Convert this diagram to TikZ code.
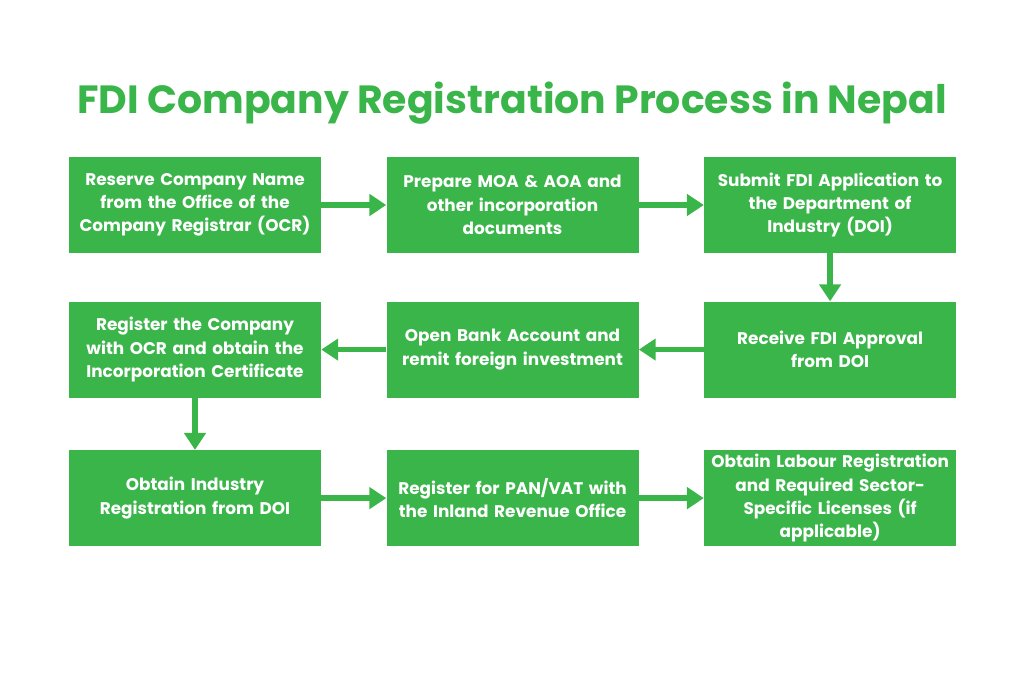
\documentclass[tikz,border=0pt]{standalone}
\usepackage{fontspec}
\setmainfont{Poppins}
\usetikzlibrary{positioning,arrows.meta}
\definecolor{fdigreen}{HTML}{3AB54A}
\begin{document}
\begin{tikzpicture}[
    stage/.style={fill=fdigreen, text=white, font=\bfseries\fontsize{12}{16.5}\selectfont,
        minimum width=6.3cm, minimum height=2.4cm, text width=6.2cm, align=center, inner sep=1pt},
    flow/.style={draw=fdigreen, line width=4pt, -{Triangle[width=15pt,length=12pt]}},
    node distance=1.2cm and 1.625cm
]
    \useasboundingbox (0,0) rectangle (25.6,17.075);

    % title
    \node[text=fdigreen, font=\bfseries\fontsize{28}{32}\selectfont] (title) at (12.8,14.5) {FDI Company Registration Process in Nepal};

    % first row
    \node[stage] (name) at (4.875,11.95) {Reserve Company Name\\from the Office of the\\Company Registrar (OCR)};
    \node[stage, right=of name] (moa) {Prepare MOA \& AOA and\\other incorporation\\documents};
    \node[stage, right=of moa] (apply) {Submit FDI Application to\\the Department of\\Industry (DOI)};

    % second row
    \node[stage, below=of apply] (approval) {Receive FDI Approval\\from DOI};
    \node[stage, left=of approval] (bank) {Open Bank Account and\\remit foreign investment};
    \node[stage, left=of bank] (register) {Register the Company\\with OCR and obtain the\\Incorporation Certificate};

    % third row
    \node[stage, below=1.3cm of register] (industry) {Obtain Industry\\Registration from DOI};
    \node[stage, right=of industry] (pan) {Register for PAN/VAT with\\the Inland Revenue Office};
    \node[stage, right=of pan] (labour) {Obtain Labour Registration\\and Required Sector-\\Specific Licenses (if\\applicable)};

    % connectors
    \draw[flow] (name) -- (moa);
    \draw[flow] (moa) -- (apply);
    \draw[flow] (apply) -- (approval);
    \draw[flow] (approval) -- (bank);
    \draw[flow] (bank) -- (register);
    \draw[flow] (register) -- (industry);
    \draw[flow] (industry) -- (pan);
    \draw[flow] (pan) -- (labour);

\end{tikzpicture}
\end{document}
